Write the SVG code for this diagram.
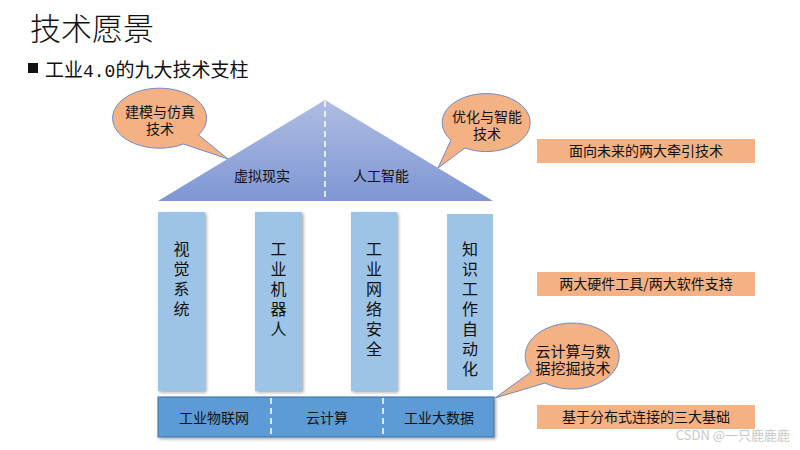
<svg xmlns="http://www.w3.org/2000/svg" width="800" height="450" viewBox="0 0 800 450">
<style>
text{font-family:"Noto Sans CJK SC","Microsoft YaHei",sans-serif;fill:#111;}
.t14{font-size:14px;text-anchor:middle;}
.v{font-size:16px;writing-mode:vertical-rl;letter-spacing:4px;}
.pillar{fill:#9dc3e6;}
.note{fill:#f4b183;}
.callout{fill:#f4b183;stroke:#6a8cc8;stroke-width:1;}
.div{stroke:#fff;stroke-width:1.5;stroke-dasharray:6 4;}
</style>
<defs>
<linearGradient id="roof" x1="0" y1="0" x2="0" y2="1">
<stop offset="0" stop-color="#aebde2"/>
<stop offset="1" stop-color="#7f96d3"/>
</linearGradient>
<filter id="sh" x="-20%" y="-20%" width="140%" height="140%">
<feDropShadow dx="1.5" dy="1.5" stdDeviation="1.5" flood-color="#000" flood-opacity="0.35"/>
</filter>
</defs>
<rect width="800" height="450" fill="#fff"/>
<text x="30" y="40" style="font-size:31px;font-weight:300">技术愿景</text>
<rect x="28" y="63" width="10" height="10" fill="#111"/>
<text x="45" y="77" style="font-size:19px">工业<tspan style="font-family:'Liberation Mono',monospace;font-size:18px">4.0</tspan>的九大技术支柱</text>

<g id="roof-node">
<polygon points="325,100 493,201 158,201" fill="url(#roof)"/>
<line x1="325" y1="101" x2="325" y2="201" class="div"/>
<text x="262" y="181" class="t14">虚拟现实</text>
<text x="381" y="181" class="t14">人工智能</text>
</g>

<g id="pillar1">
<rect x="158" y="212" width="47" height="179" class="pillar" filter="url(#sh)"/>
<text class="v" x="181.5" y="241">视觉系统</text>
</g>
<g id="pillar2">
<rect x="255" y="212" width="47" height="179" class="pillar" filter="url(#sh)"/>
<text class="v" x="278.5" y="241">工业机器人</text>
</g>
<g id="pillar3">
<rect x="351" y="212" width="46" height="179" class="pillar" filter="url(#sh)"/>
<text class="v" x="374" y="241">工业网络安全</text>
</g>
<g id="pillar4">
<rect x="447" y="214" width="46" height="176" class="pillar"/>
<text class="v" x="470" y="241">知识工作自动化</text>
</g>

<g id="base">
<rect x="158" y="397" width="336" height="40" fill="#5b9bd5" stroke="#41719c" stroke-width="1" filter="url(#sh)"/>
<line x1="271" y1="398" x2="271" y2="436" class="div"/>
<line x1="383" y1="398" x2="383" y2="436" class="div"/>
<text x="214" y="423" class="t14">工业物联网</text>
<text x="327" y="423" class="t14">云计算</text>
<text x="439" y="423" class="t14">工业大数据</text>
</g>

<g id="callout1">
<path d="M183.5,144 A47,30 0 1 1 198.5,135 L228,159 Z" class="callout"/>
<text class="t14"><tspan x="160" y="117">建模与仿真</tspan><tspan x="160" y="134">技术</tspan></text>
</g>
<g id="callout2">
<path d="M451,140 A44,29 0 1 1 465,148 L438,168 Z" class="callout"/>
<text class="t14"><tspan x="487" y="122">优化与智能</tspan><tspan x="487" y="139">技术</tspan></text>
</g>
<g id="callout3">
<path d="M545,383 A47,33 0 1 0 531,372 L495,398 Z" class="callout"/>
<text class="t14" style="font-size:15px"><tspan x="573" y="357">云计算与数</tspan><tspan x="573" y="374">据挖掘技术</tspan></text>
</g>

<g id="note1">
<rect x="537" y="139" width="218" height="24" class="note"/>
<text x="646" y="156" class="t14">面向未来的两大牵引技术</text>
</g>
<g id="note2">
<rect x="537" y="272" width="218" height="24" class="note"/>
<text x="646" y="289" class="t14">两大硬件工具/两大软件支持</text>
</g>
<g id="note3">
<rect x="537" y="405" width="218" height="24" class="note"/>
<text x="646" y="422" class="t14">基于分布式连接的三大基础</text>
</g>
<g id="connectors"></g>
<text x="790" y="440" style="font-size:13px;fill:#c8c8c8;text-anchor:end">CSDN @一只鹿鹿鹿</text>
</svg>
